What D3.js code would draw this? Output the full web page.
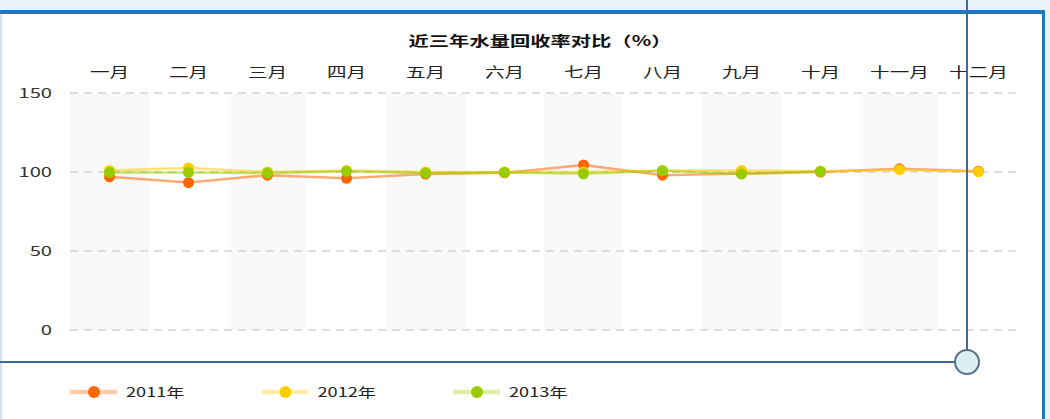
<!DOCTYPE html>
<html>
<head>
<meta charset="utf-8">
<script src="https://cdn.jsdelivr.net/npm/d3@7"></script>
<style>
  body { margin: 0; background: #fff; }
  svg { display: block; font-family: "Noto Sans CJK SC", "Noto Sans", sans-serif; }
</style>
</head>
<body>
<svg width="1050" height="419"></svg>
<script>
var title = "近三年水量回收率对比（%）";
var months = ["一月","二月","三月","四月","五月","六月","七月","八月","九月","十月","十一月","十二月"];
var yTicks = [0, 50, 100, 150];
var seriesNames = ["2011年", "2012年", "2013年"];
var colors = ["#ff6600", "#ffcc00", "#99cc00"];
var v2011 = [97, 93.3, 98, 96, 98.7, 99.5, 104.5, 98, 99, 100, 102, 100.5];
var v2012 = [101, 102.5, 100, 101, 100, 100, 100, 101, 101, 100.5, 101.5, 100.2];
var v2013 = [99.7, 99.7, 99.3, 100.4, 99.3, 99.7, 98.9, 100.8, 98.7, 100.4];

// the screenshot is stretched sideways, so text gets the same stretch
var SX = 1.4;

var svg = d3.select("svg");
var allValues = [v2011, v2012, v2013];

var x = d3.scaleBand().domain(months).range([70, 1018]).padding(0);
var y = d3.scaleLinear().domain([0, 150]).range([330, 93]);

function stretchText(sel, tx, ty, sx) {
    sel.attr("transform", "translate(" + tx + "," + ty + ") scale(" + (sx || SX) + ",1)");
}

// alternating bands
svg.append("g").selectAll("rect")
    .data(months.filter(function(d, i) { return i % 2 == 0; }))
    .enter().append("rect")
    .attr("x", function(d) { return x(d); })
    .attr("y", y(150))
    .attr("width", x.bandwidth())
    .attr("height", y(0) - y(150))
    .attr("fill", "#f9f9f9");

// grid lines
svg.append("g").selectAll("line")
    .data(yTicks)
    .enter().append("line")
    .attr("x1", 70)
    .attr("x2", 1018)
    .attr("y1", function(d) { return y(d); })
    .attr("y2", function(d) { return y(d); })
    .attr("stroke", "#d4d4d4")
    .attr("stroke-width", 1.5)
    .attr("stroke-dasharray", "8,6");

// y labels
svg.append("g").selectAll("text")
    .data(yTicks)
    .enter().append("text")
    .attr("text-anchor", "end")
    .attr("dy", "0.35em")
    .attr("font-size", 13)
    .attr("fill", "#333")
    .text(function(d) { return d; })
    .each(function(d) { stretchText(d3.select(this), 52, y(d), 1.55); });

// month labels on top
svg.append("g").selectAll("text")
    .data(months)
    .enter().append("text")
    .attr("text-anchor", "middle")
    .attr("font-size", 14)
    .attr("fill", "#222")
    .text(function(d) { return d; })
    .each(function(d) { stretchText(d3.select(this), x(d) + x.bandwidth() / 2, 77); });

// title
svg.append("text")
    .attr("text-anchor", "middle")
    .attr("font-size", 14)
    .attr("font-weight", "bold")
    .attr("fill", "#111")
    .text(title)
    .call(stretchText, 540, 46, 1.45);

// series
var line = d3.line()
    .x(function(d, i) { return x(months[i]) + x.bandwidth() / 2; })
    .y(function(d) { return y(d); });

allValues.forEach(function(vals, k) {
    svg.append("path")
        .datum(vals)
        .attr("d", line)
        .attr("fill", "none")
        .attr("stroke", colors[k])
        .attr("stroke-width", 2.5)
        .attr("stroke-opacity", 0.55);
});
allValues.forEach(function(vals, k) {
    svg.append("g").selectAll("circle")
        .data(vals)
        .enter().append("circle")
        .attr("cx", function(d, i) { return x(months[i]) + x.bandwidth() / 2; })
        .attr("cy", function(d) { return y(d); })
        .attr("r", 5.5)
        .attr("fill", colors[k]);
});

// legend
var legend = svg.append("g").selectAll("g")
    .data(seriesNames)
    .enter().append("g")
    .attr("transform", function(d, i) { return "translate(" + (70 + i * 191.5) + ",392)"; });

legend.append("line")
    .attr("x1", 0).attr("x2", 47)
    .attr("stroke", function(d, i) { return colors[i]; })
    .attr("stroke-width", 4.5)
    .attr("stroke-opacity", 0.35);
legend.append("circle")
    .attr("cx", 24)
    .attr("r", 6)
    .attr("fill", function(d, i) { return colors[i]; });
legend.append("text")
    .attr("dy", "0.35em")
    .attr("font-size", 13)
    .attr("fill", "#222")
    .text(function(d) { return d; })
    .call(stretchText, 56, 0);

// window frame and cursor overlay seen in the screenshot
svg.append("rect").attr("x", 0).attr("y", 0).attr("width", 1050).attr("height", 10).attr("fill", "#eaf2fa");
svg.append("rect").attr("x", 0).attr("y", 10).attr("width", 1045).attr("height", 4).attr("fill", "#1f76c4");
svg.append("rect").attr("x", 0).attr("y", 14).attr("width", 2).attr("height", 405).attr("fill", "#d2e3f3");
svg.append("rect").attr("x", 1042).attr("y", 10).attr("width", 3).attr("height", 409).attr("fill", "#1f76c4");
svg.append("rect").attr("x", 1045).attr("y", 0).attr("width", 5).attr("height", 419).attr("fill", "#eaf2fa");

svg.append("line")
    .attr("x1", 967).attr("x2", 967).attr("y1", 0).attr("y2", 350)
    .attr("stroke", "#3f6a98").attr("stroke-width", 2);
svg.append("line")
    .attr("x1", 0).attr("x2", 955).attr("y1", 362).attr("y2", 362)
    .attr("stroke", "#3f6a98").attr("stroke-width", 2);
svg.append("circle")
    .attr("cx", 967).attr("cy", 362).attr("r", 12)
    .attr("fill", "#dcf0f4")
    .attr("stroke", "#5a6f86")
    .attr("stroke-width", 2);
</script>
</body>
</html>
